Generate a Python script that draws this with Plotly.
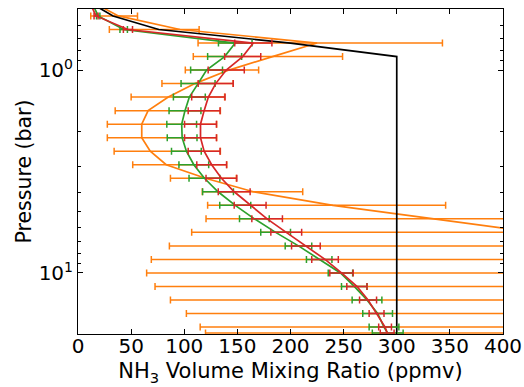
import plotly.graph_objects as go

# Pressure levels (bar) of the retrieval grid
pressure = [0.541, 0.631, 0.736, 0.858, 1.0, 1.166, 1.359, 1.585, 1.848, 2.154,
            2.512, 2.929, 3.415, 3.981, 4.642, 5.412, 6.310, 7.356, 8.577, 10.0,
            11.66, 13.59, 15.85, 18.48, 19.8]
p_top = 0.464

# Black "true" profile
black_p = [0.464, 0.541, 0.631, 0.736, 0.858, 20.0]
black_v = [11, 33, 76, 200, 300, 300]

# Orange profile line (does not pass through bar centres)
orange_line_p = [0.464, 0.541, 0.631, 0.736, 0.858, 1.0, 1.166, 1.359, 1.585, 1.848,
                 2.154, 2.512, 2.929, 3.415, 3.981, 4.642, 5.412, 6.310]
orange_line_v = [14, 38, 96, 225, 183, 142, 110, 85, 66, 60,
                 60, 68, 83, 120, 165, 240, 335, 430]
# Orange error-bar limits
orange_lo = [12, 29.5, 113, 108.5, 101, 79, 50, 35, 27.6, 27.6,
             34, 51.5, 87, 117, 122, 120.5, 107, 86, 69, 64.6,
             72.5, 87, 102, 115, 120]
orange_hi = [56, 114, 343, 249, 170, 146, 138, 134, 130.5, 130.5,
             134, 140, 149, 211.5, 346, 700, 800, 900, 1000, 1000,
             1000, 1000, 1000, 1000, 1000]

# Green profile and half-widths
green_top = 13
green_v = [19, 43, 148, 138, 121, 113, 104.8, 100.7, 97.6, 98,
           102, 109, 119, 131.8, 148, 166, 186, 207.5, 227, 247,
           260, 272, 282, 288, 291.5]
green_err = [1.6, 3.5, 15.8, 16, 15, 16, 15, 15, 14, 14,
             14, 14, 14.5, 14.5, 14.6, 14, 14, 12.5, 12, 11.5,
             12, 14, 14, 14, 14.5]

# Red profile and half-widths
red_top = 11
red_v = [17, 47, 165, 155, 139.5, 129.6, 122.7, 118.7, 115.3, 115.3,
         118.7, 125.8, 135, 147, 162, 178, 196, 214.5, 232.5, 248,
         262.5, 273, 281, 289, 291]
red_err = [1.9, 4.3, 17.5, 17, 17, 16.5, 15.7, 15, 15, 15,
           15, 14, 14.5, 15, 15, 14.4, 14.5, 13.5, 12.5, 11,
           9.5, 8, 7, 6, 6.5]

ORANGE = "#ff7f0e"
GREEN = "#2ca02c"
RED = "#d62728"

orange_mid = [(a + b) / 2 for a, b in zip(orange_lo, orange_hi)]
orange_half = [(b - a) / 2 for a, b in zip(orange_lo, orange_hi)]

fig = go.Figure()

# orange error bars
fig.add_trace(go.Scatter(
    x=orange_mid, y=pressure, mode="markers",
    marker=dict(size=1, opacity=0, color=ORANGE),
    error_x=dict(type="data", array=orange_half, color=ORANGE,
                 thickness=1.5, width=3.5),
    showlegend=False, hoverinfo="skip"))
# orange line
fig.add_trace(go.Scatter(x=orange_line_v, y=orange_line_p, mode="lines",
                         line=dict(color=ORANGE, width=1.7), showlegend=False))
# black line
fig.add_trace(go.Scatter(x=black_v, y=black_p, mode="lines",
                         line=dict(color="black", width=1.7), showlegend=False))

for top, vals, errs, col in [(green_top, green_v, green_err, GREEN),
                             (red_top, red_v, red_err, RED)]:
    fig.add_trace(go.Scatter(
        x=vals, y=pressure, mode="markers",
        marker=dict(size=1, opacity=0, color=col),
        error_x=dict(type="data", array=errs, color=col, thickness=1.5, width=3.5),
        showlegend=False, hoverinfo="skip"))
    fig.add_trace(go.Scatter(x=[top] + vals, y=[p_top] + pressure, mode="lines",
                             line=dict(color=col, width=1.7), showlegend=False))

FONT = "DejaVu Sans"
fig.update_layout(
    width=524, height=387,
    margin=dict(l=78, r=21, t=9, b=53, autoexpand=False),
    paper_bgcolor="white", plot_bgcolor="white",
    font=dict(family=FONT, size=20, color="black"),
    showlegend=False,
)
fig.update_xaxes(
    range=[0, 400], tickvals=[0, 50, 100, 150, 200, 250, 300, 350, 400],
    ticks="inside", ticklen=5, tickwidth=1, tickcolor="black",
    showline=True, linecolor="black", linewidth=1, mirror="allticks",
    showgrid=False, zeroline=False, automargin=False,
    tickfont=dict(family=FONT, size=20), ticklabelstandoff=-6,
    title=dict(text="NH<sub>3</sub> Volume Mixing Ratio (ppmv)",
               font=dict(family=FONT, size=21), standoff=6),
)
fig.update_yaxes(
    type="log", range=[1.30103, -0.30103],
    tickvals=[1, 10], ticktext=["10<sup>0</sup>", "10<sup>1</sup>"],
    ticks="inside", ticklen=5, tickwidth=1, tickcolor="black",
    minor=dict(ticks="inside", ticklen=3, tickwidth=1, tickcolor="black",
               tickvals=[0.6, 0.7, 0.8, 0.9, 2, 3, 4, 5, 6, 7, 8, 9, 20],
               showgrid=False),
    showline=True, linecolor="black", linewidth=1, mirror="allticks",
    showgrid=False, zeroline=False, automargin=False,
    tickfont=dict(family=FONT, size=20),
    title=dict(text="Pressure (bar)", font=dict(family=FONT, size=20.5), standoff=1),
)

fig.write_html("out.html", config={"displayModeBar": False},
               post_script="document.body.style.margin='0px';document.body.style.overflow='hidden';")
